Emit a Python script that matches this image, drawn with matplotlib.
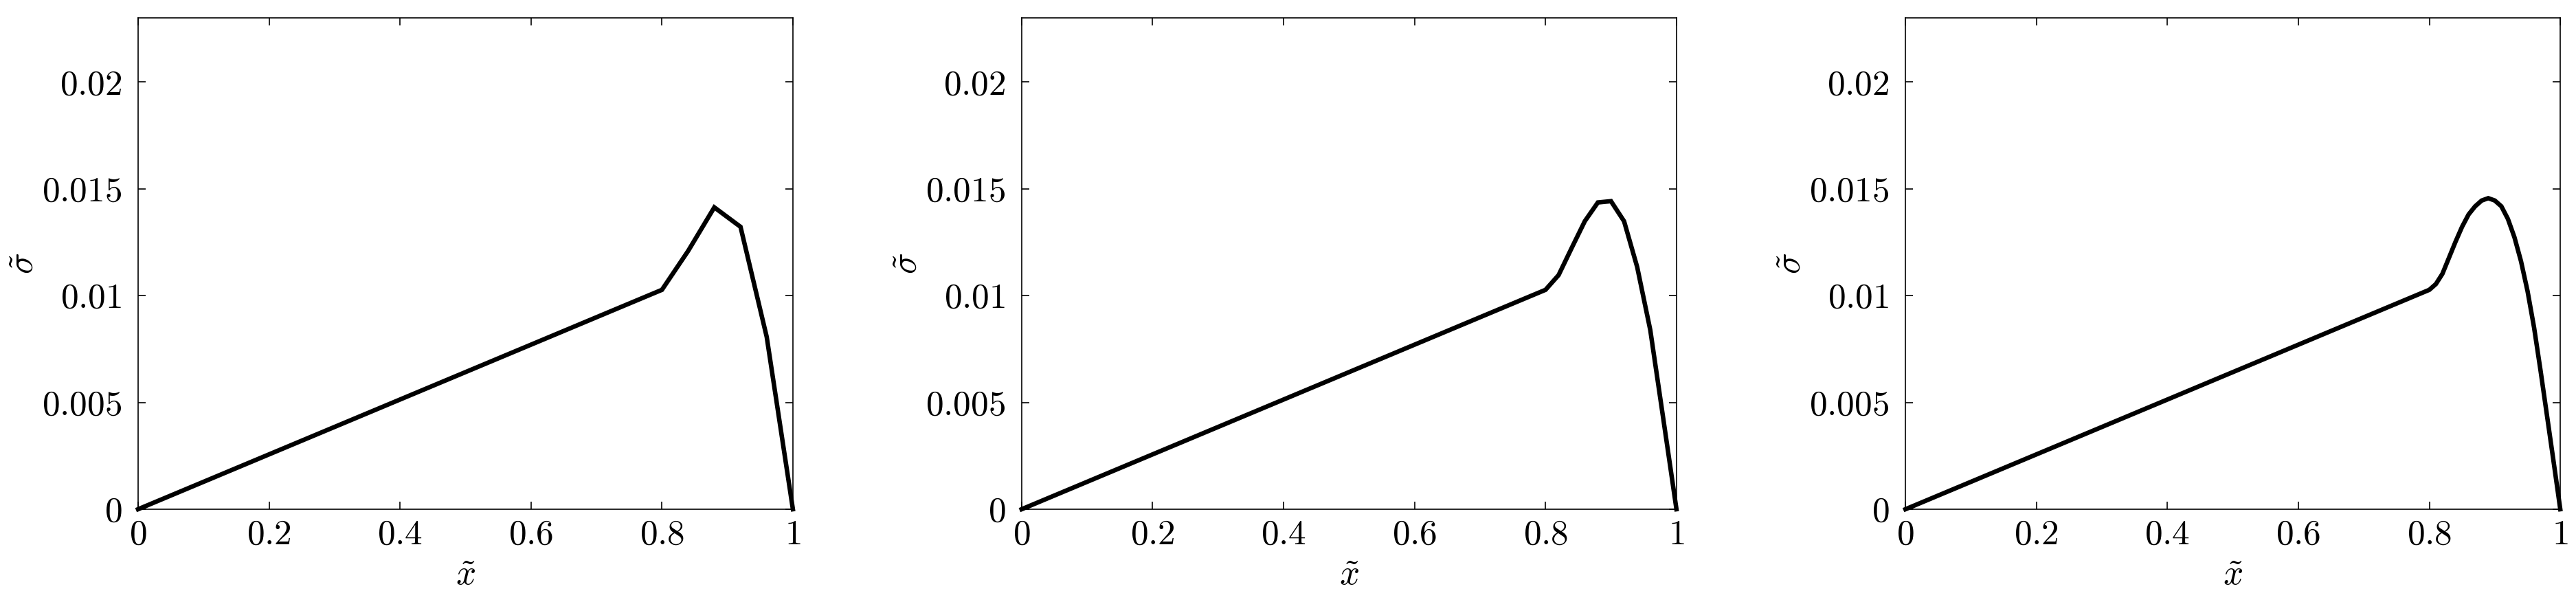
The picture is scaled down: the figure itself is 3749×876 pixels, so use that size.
import matplotlib
matplotlib.use("Agg")
import matplotlib.pyplot as plt

plt.rcParams['mathtext.fontset'] = 'cm'
plt.rcParams['font.family'] = 'serif'
plt.rcParams['font.serif'] = ['cmr10', 'DejaVu Serif']
plt.rcParams['axes.unicode_minus'] = False

# coarse mesh
x1 = [0.0, 0.80, 0.84, 0.88, 0.92, 0.96, 1.0]
s1 = [0.0, 0.01027, 0.01209, 0.01413, 0.01322, 0.00807, 0.0]

# medium mesh
x2 = [0.0, 0.80, 0.82, 0.84, 0.86, 0.88, 0.90, 0.92, 0.94, 0.96, 0.98, 1.0]
s2 = [0.0, 0.01027, 0.01096, 0.01223, 0.01348, 0.01436, 0.01442, 0.01348,
      0.01134, 0.00839, 0.00421, 0.0]

# fine mesh
x3 = [0.0, 0.80, 0.81, 0.82, 0.83, 0.84, 0.85, 0.86, 0.87, 0.88, 0.89, 0.90,
      0.91, 0.92, 0.93, 0.94, 0.95, 0.96, 0.97, 0.98, 0.99, 1.0]
s3 = [0.0, 0.01027, 0.01054, 0.01102, 0.01177, 0.01252, 0.01322, 0.01380,
      0.01418, 0.01445, 0.01456, 0.01445, 0.01418, 0.01359, 0.01273, 0.01161,
      0.01021, 0.00850, 0.00646, 0.00432, 0.00218, 0.0]

xticks = [0, 0.2, 0.4, 0.6, 0.8, 1.0]
xlabels = ['0', '0.2', '0.4', '0.6', '0.8', '1']
yticks = [0, 0.005, 0.01, 0.015, 0.02]
ylabels = ['0', '0.005', '0.01', '0.015', '0.02']

fig = plt.figure(figsize=(37.49, 8.76), dpi=100)
lefts = [0.0536, 0.3966, 0.7397]
fs = 37

for left, xs, ss in zip(lefts, [x1, x2, x3], [s1, s2, s3]):
    ax = fig.add_axes([left, 0.1541, 0.2542, 0.8162])
    ax.plot(xs, ss, color='black', lw=4.7, solid_joinstyle='miter', clip_on=False)
    ax.set_xlim(0, 1)
    ax.set_ylim(0, 0.023)
    ax.set_xticks(xticks, ['$' + t + '$' for t in xlabels])
    ax.set_yticks(yticks, ['$' + t + '$' for t in ylabels])
    ax.tick_params(direction='in', top=True, right=True, length=8, width=1.2,
                   labelsize=fs)
    ax.tick_params(axis='x', pad=11)
    ax.tick_params(axis='y', pad=17)
    for sp in ax.spines.values():
        sp.set_linewidth(1.2)
    ax.set_xlabel(r'$\tilde{x}$', fontsize=fs)
    ax.set_ylabel(r'$\tilde{\sigma}$', fontsize=fs)
    ax.xaxis.set_label_coords(0.5, -0.104)
    ax.yaxis.set_label_coords(-0.150, 0.5)

fig.savefig('out.png', dpi=100)
